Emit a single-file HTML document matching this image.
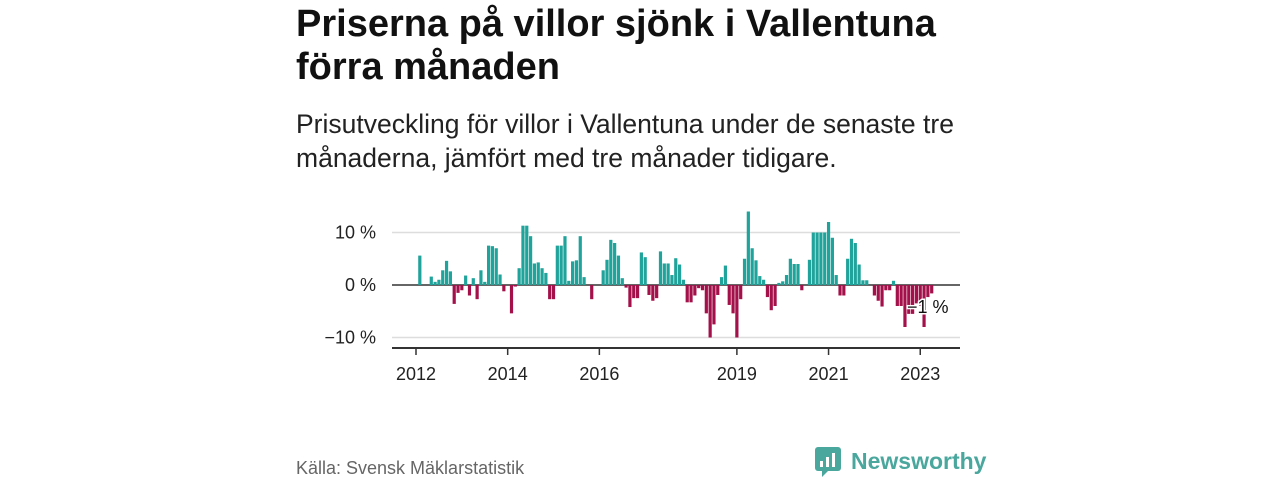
<!DOCTYPE html>
<html><head><meta charset="utf-8"><style>
body{margin:0;width:1280px;height:480px;background:#fff;font-family:"Liberation Sans",sans-serif;position:relative;overflow:hidden}
.t{position:absolute;left:296px;top:3px;font-size:38px;font-weight:bold;line-height:43px;color:#111;width:680px}
.s{position:absolute;left:296px;top:107px;font-size:26.5px;line-height:34px;color:#222;width:700px}
.src{position:absolute;left:296px;top:458px;font-size:18px;color:#666}
</style></head><body>
<div class="t">Priserna på villor sjönk i Vallentuna förra månaden</div>
<div class="s">Prisutveckling för villor i Vallentuna under de senaste tre månaderna, jämfört med tre månader tidigare.</div>
<div class="src">Källa: Svensk Mäklarstatistik</div>
<svg style="position:absolute;left:0;top:0" width="1280" height="480" id="c">
<g>
<rect x="815" y="447" width="26" height="24" rx="3" fill="#4aa79e"/>
<path d="M822 471 l0 6 l6 -6z" fill="#4aa79e"/>
<rect x="820" y="461" width="3" height="6" fill="#fff"/><rect x="826" y="457" width="3" height="10" fill="#fff"/><rect x="832" y="453" width="3" height="14" fill="#fff"/>
<text x="851" y="469" font-size="23" font-weight="bold" fill="#4aa79e" font-family="Liberation Sans, sans-serif">Newsworthy</text>
</g>
</svg>
<script>
const months=[];for(let i=0;i<=135;i++)months.push(i);
const values=[0,5.6,0,0,1.6,0.6,1.0,2.8,4.6,2.6,-3.6,-1.5,-1.0,1.8,-2.0,1.3,-2.7,2.8,0.6,7.5,7.4,7.0,2.0,-1.2,0,-5.4,-0.3,3.2,11.3,11.3,9.3,4.1,4.3,3.2,2.3,-2.7,-2.7,7.5,7.5,9.3,0.8,4.5,4.7,9.3,1.5,0,-2.7,0,0,2.8,4.8,8.6,8.0,5.6,1.3,-0.5,-4.2,-2.5,-2.5,6.2,5.3,-1.9,-3.0,-2.5,6.4,4.1,4.1,1.9,5.1,3.9,1.0,-3.3,-3.3,-2.0,-0.6,-1.0,-5.4,-10,-7.5,-1.9,1.5,3.7,-3.8,-5.4,-10,-2.7,5.0,14,7.0,4.7,1.7,1.0,-2.3,-4.8,-4.0,0.4,0.7,1.9,5.0,4.0,4.0,-1.0,0,4.8,10,10,10,10,12,9,1.9,-2.0,-2.0,5.0,8.8,8.0,3.9,0.9,0.9,0,-2.0,-3.0,-4.1,-1.0,-1.0,0.8,-4.0,-4.0,-8.0,-5.5,-5.5,-3.5,-4.0,-8.0,-2.3,-1.6,-1.0];
const yTicks=[10,0,-10];const yLabels=["10 %","0 %","−10 %"];
const xTicks=[2012,2014,2016,2019,2021,2023];
const NS="http://www.w3.org/2000/svg",svg=document.getElementById('c');
const X=m=>416+m*3.82, XY=y=>X((y-2012)*12), Y=v=>285-v*5.25;
function el(t,a){const e=document.createElementNS(NS,t);for(const k in a)e.setAttribute(k,a[k]);svg.appendChild(e);return e;}
yTicks.forEach((v,i)=>{
 const l=el('line',{x1:392,x2:960,y1:Y(v),y2:Y(v),stroke:v===0?'#333':'#ddd','stroke-width':1.5});
 
 
 const t=el('text',{x:376,y:Y(v)+6,'text-anchor':'end','font-size':18,fill:'#222','font-family':'Liberation Sans, sans-serif'});t.textContent=yLabels[i];
 
 
});
months.forEach((m,i)=>{const v=values[i];if(!v)return;
 const r=el('rect',{x:X(m)-1.6,width:3.2,y:v>0?Y(v):Y(0),height:Math.abs(Y(v)-Y(0)),fill:v>0?'#1fa39a':'#a3104a'});
 
 
});
const ax=el('line',{x1:392,x2:960,y1:348,y2:348,stroke:'#333','stroke-width':2});


xTicks.forEach(y=>{
 const tk=el('line',{x1:XY(y),x2:XY(y),y1:348,y2:355,stroke:'#333','stroke-width':1.5});
 
 
 const t=el('text',{x:XY(y),y:380,'text-anchor':'middle','font-size':18,fill:'#222','font-family':'Liberation Sans, sans-serif'});t.textContent=y;
 
 
});
const lb=el('text',{x:907,y:313,'font-size':18,fill:'#111','font-family':'Liberation Sans, sans-serif',stroke:'#fff','stroke-width':3,'paint-order':'stroke'});lb.textContent='−1 %';


</script>
</body></html>
